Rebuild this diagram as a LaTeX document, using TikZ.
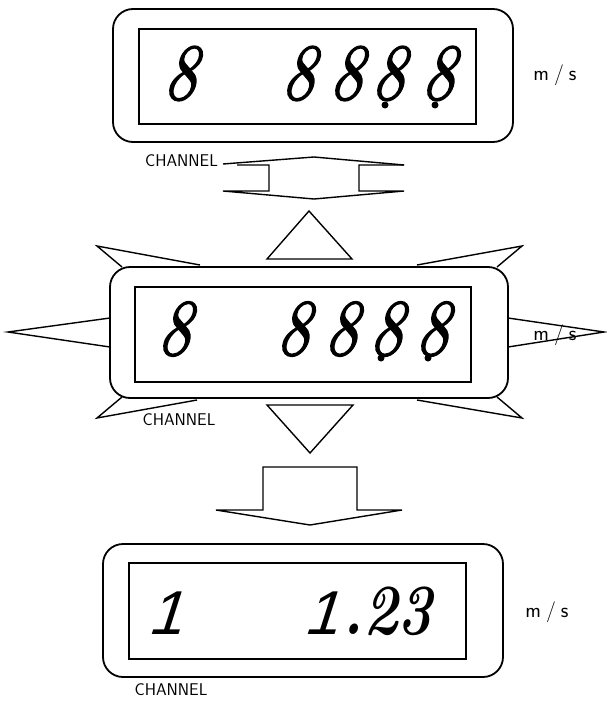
\documentclass[tikz,border=0pt]{standalone}
\usepackage{fontspec}
% display digits: heavy slanted cursive figures
\newfontfamily\digfont{lmroman10-italic}[Extension=.otf,FakeBold=1.6,FakeSlant=0.1,FakeStretch=0.8]
\newfontfamily\onefont{Liberation Sans}[FakeSlant=0.32]
\newfontfamily\fracfont{lmroman10-bolditalic}[Extension=.otf,FakeStretch=0.82]
\begin{document}
\begin{tikzpicture}[x=1pt,y=-1pt,
  panel/.style={draw,line width=1.8pt,rounded corners=20pt,inner sep=0pt},
  window/.style={draw,line width=1.3pt,inner sep=0pt},
  digit/.style={inner sep=0pt,font=\digfont\fontsize{80}{80}\selectfont},
  caption/.style={inner sep=0pt,font=\sffamily\fontsize{17}{17}\selectfont},
  unit/.style={inner sep=0pt,anchor=base,font=\sffamily\fontsize{21}{21}\selectfont},
  spike/.style={line width=1.4pt,line join=miter},
  arrowshape/.style={line width=1.4pt,line join=miter},
  dp/.style={fill,circle,inner sep=0pt,minimum size=7pt},
  onedigit/.style={inner sep=0pt,font=\onefont\fontsize{62}{62}\selectfont},
]
\path[use as bounding box] (0,0) rectangle (607,704);

% ---------- upper display ----------
\node[panel,minimum width=400pt,minimum height=133pt] (topframe) at (313,75.5) {};
\node[window,minimum width=337pt,minimum height=95pt] (topwin) at (307.5,76.5) {};
\node[digit] (t1) at (179,73.5) {8};
\node[digit] (t2) at (297,73.5) {8};
\node[digit] (t3) at (345,73.5) {8};
\node[digit] (t4) at (387,73.5) {8};
\node[digit] (t5) at (437,73.5) {8};
\node[dp] (td4) at (385,105) {};
\node[dp] (td5) at (435,105) {};
\node[unit] (tunit) at (555,80) {m\hspace{5pt}/\hspace{5pt}s};
\node[caption] (tchan) at (181.5,161) {CHANNEL};

% ---------- up / down selector ----------
\draw[arrowshape] (223,164) -- (314,157) -- (404,165);
\draw[arrowshape] (237,165) -- (269,165) -- (269,191) -- (223,191) -- (314,199) -- (404,191) -- (359,191) -- (359,165) -- (404,165);
\draw[arrowshape] (309,211) -- (352,259) -- (267,259) -- cycle;

% ---------- middle display with spikes ----------
\draw[spike] (110,318) -- (8,332) -- (110,347);
\draw[spike] (508,318) -- (604,332) -- (508,347);
\draw[spike] (200,265) -- (97,246) -- (122,267);
\draw[spike] (122,397) -- (97,418) -- (197,400);
\draw[spike] (417,265) -- (522,246) -- (497,267);
\draw[spike] (497,397) -- (522,418) -- (417,400);
\node[panel,fill=white,minimum width=398pt,minimum height=131pt] (midframe) at (309,332.5) {};
\node[window,minimum width=336pt,minimum height=95pt] (midwin) at (303,334.5) {};
\node[digit] (m1) at (173,329) {8};
\node[digit] (m2) at (292,329) {8};
\node[digit] (m3) at (340,329) {8};
\node[digit] (m4) at (385,329) {8};
\node[digit] (m5) at (431,329) {8};
\node[dp] (md4) at (381,358) {};
\node[dp] (md5) at (428,358) {};
\node[unit] (munit) at (555,340) {m\hspace{5pt}/\hspace{5pt}s};
\node[caption] (mchan) at (179,420) {CHANNEL};

% ---------- down triangle and output arrow ----------
\draw[arrowshape] (267,405) -- (353,405) -- (310,453) -- cycle;
\draw[arrowshape] (263,510) -- (263,467) -- (357,467) -- (357,510) -- (402,510) -- (310,525) -- (216,510) -- cycle;

% ---------- lower display ----------
\node[panel,minimum width=400pt,minimum height=133pt] (botframe) at (303,610.5) {};
\node[window,minimum width=337pt,minimum height=96pt] (botwin) at (297.5,611) {};
\node[onedigit,anchor=base] (b1) at (165,634) {1};
\node[onedigit,anchor=base west] (b2a) at (303,634) {1};
\node[inner sep=0pt,anchor=base west,font=\fracfont\fontsize{72}{72}\selectfont] (b2b) at ([xshift=4pt]b2a.base east) {.23};
\node[unit] (bunit) at (547,617) {m\hspace{5pt}/\hspace{5pt}s};
\node[caption] (bchan) at (171,690) {CHANNEL};
\end{tikzpicture}
\end{document}
